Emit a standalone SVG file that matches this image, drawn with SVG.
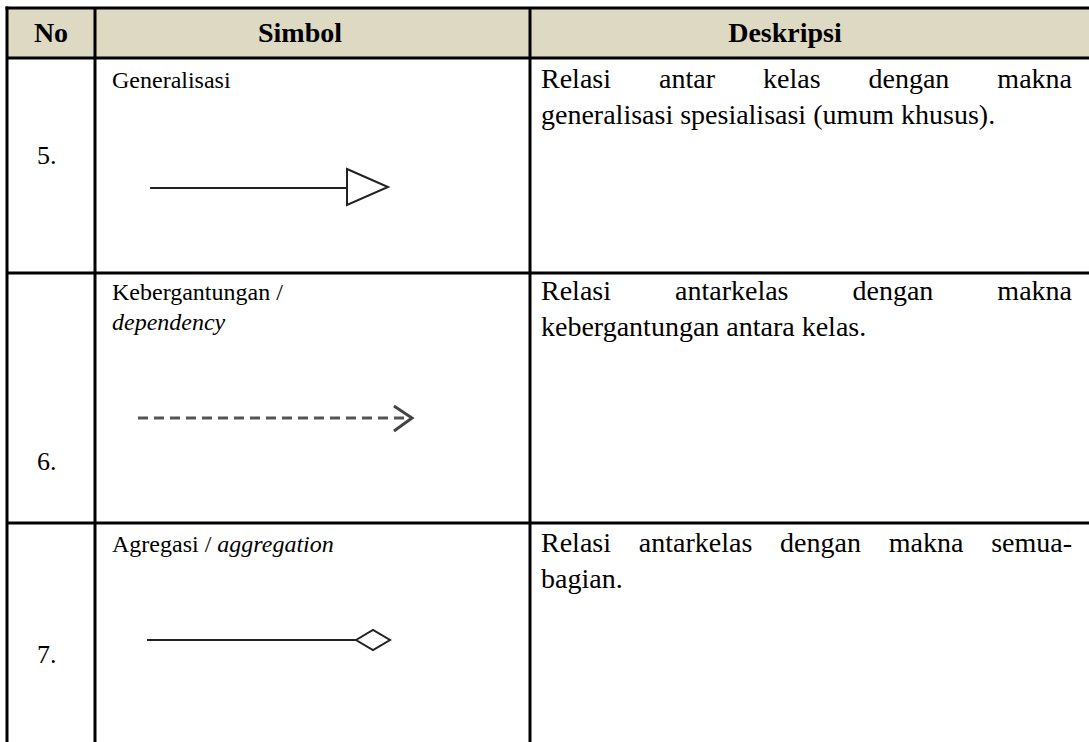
<svg xmlns="http://www.w3.org/2000/svg" width="1089" height="742" viewBox="0 0 1089 742">
<style>
.t{font-family:"Liberation Serif","Times New Roman","DejaVu Serif",serif;font-size:24px;fill:#000}
.n{font-size:26px}
.d{font-size:28px}
.h{font-weight:bold;font-size:28px}
.i{font-style:italic}
.g{stroke:#000;stroke-width:3;fill:none}
.sym{stroke:#222;stroke-width:2;fill:none}
</style>
<rect x="0" y="0" width="1089" height="742" fill="#fff"/>
<g id="header">
<rect x="7" y="8" width="1090" height="50" fill="#DDD9C3"/>
<text class="t h" x="51" y="42" text-anchor="middle">No</text>
<text class="t h" x="300" y="42" text-anchor="middle">Simbol</text>
<text class="t h" x="785" y="42" text-anchor="middle">Deskripsi</text>
</g>
<g id="grid">
<line class="g" x1="5.5" y1="8" x2="1095" y2="8"/>
<line class="g" x1="7" y1="6.5" x2="7" y2="742"/>
<line class="g" x1="95" y1="8" x2="95" y2="742"/>
<line class="g" x1="530" y1="8" x2="530" y2="742"/>
<line class="g" x1="7" y1="58" x2="1095" y2="58"/>
<line class="g" x1="7" y1="273" x2="1095" y2="273"/>
<line class="g" x1="7" y1="523" x2="1095" y2="523"/>
</g>
<g id="row5">
<text class="t n" x="37" y="164">5.</text>
<text class="t" x="112" y="88">Generalisasi</text>
<text class="t d" x="541" y="88">Relasi</text>
<text class="t d" x="659" y="88">antar</text>
<text class="t d" x="763" y="88">kelas</text>
<text class="t d" x="868.5" y="88">dengan</text>
<text class="t d" x="1072" y="88" text-anchor="end">makna</text>
<text class="t d" x="541" y="124">generalisasi spesialisasi (umum khusus).</text>
</g>
<g id="row6">
<text class="t n" x="37" y="470">6.</text>
<text class="t" x="112" y="300">Kebergantungan /</text>
<text class="t i" x="112" y="330">dependency</text>
<text class="t d" x="541" y="300">Relasi</text>
<text class="t d" x="675" y="300">antarkelas</text>
<text class="t d" x="852.5" y="300">dengan</text>
<text class="t d" x="1072" y="300" text-anchor="end">makna</text>
<text class="t d" x="541" y="336">kebergantungan antara kelas.</text>
</g>
<g id="row7">
<text class="t n" x="37" y="663">7.</text>
<text class="t" x="112" y="552">Agregasi / <tspan class="i">aggregation</tspan></text>
<text class="t d" x="541" y="552">Relasi</text>
<text class="t d" x="638.8" y="552">antarkelas</text>
<text class="t d" x="780.1" y="552">dengan</text>
<text class="t d" x="888.7" y="552">makna</text>
<text class="t d" x="1072" y="552" text-anchor="end">semua-</text>
<text class="t d" x="541" y="588">bagian.</text>
</g>
<g id="connectors">
<g id="generalization">
<line class="sym" x1="150" y1="188" x2="347" y2="188"/>
<path class="sym" d="M347 169 L388 187 L347 205 Z" fill="#fff" stroke="#333"/>
</g>
<g id="dependency">
<line x1="138" y1="418" x2="410" y2="418" stroke="#555" stroke-width="3" stroke-dasharray="10 6"/>
<path d="M394 406 L412 418 L394 431" stroke="#444" stroke-width="3" fill="none"/>
</g>
<g id="aggregation">
<line class="sym" x1="147" y1="640" x2="356" y2="640"/>
<path class="sym" d="M356 640 L373 630 L390 640 L373 650 Z" fill="#fff" stroke="#333"/>
</g>
</g>
</svg>
